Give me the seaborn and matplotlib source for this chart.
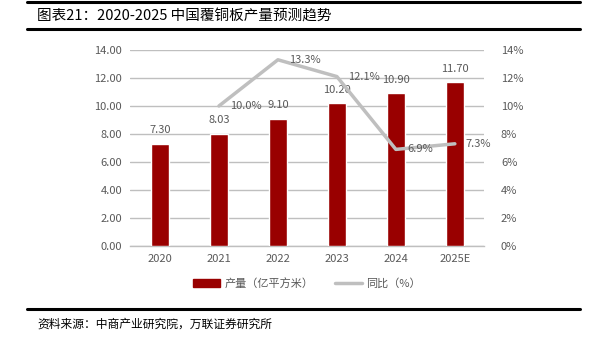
import matplotlib
matplotlib.use("Agg")
import matplotlib.pyplot as plt
import seaborn as sns
import pandas as pd
import numpy as np
from matplotlib.lines import Line2D
from matplotlib.patches import Patch
from matplotlib.ticker import FixedLocator

years = ["2020", "2021", "2022", "2023", "2024", "2025E"]
output = [7.30, 8.03, 9.10, 10.20, 10.90, 11.70]
yoy_years = ["2021", "2022", "2023", "2024", "2025E"]
yoy = [10.0, 13.3, 12.1, 6.9, 7.3]
left_ticks = [0, 2, 4, 6, 8, 10, 12, 14]
right_ticks = [0, 2, 4, 6, 8, 10, 12, 14]

sns.set_theme(style="white")
plt.rcParams["font.family"] = ["Noto Sans CJK SC", "DejaVu Sans"]

BAR = "#990000"
LINE = "#BFBFBF"
TXT = "#595959"
GRID = "#BFBFBF"

fig = plt.figure(figsize=(6.08, 3.47), dpi=100)
ax = fig.add_axes([0.2146, 0.291, 0.582, 0.565])

df_bar = pd.DataFrame({"year": years, "output": output})
sns.barplot(data=df_bar, x="year", y="output", color=BAR, width=0.31,
            saturation=1, ax=ax, zorder=3)
ax.set_xlim(-0.5, len(years) - 0.5)
ax.set_ylim(0, 14)
ax.yaxis.set_major_locator(FixedLocator(left_ticks))
ax.set_yticklabels([f"{v:.2f}" for v in left_ticks])
ax.grid(axis="y", color=GRID, linewidth=1.0, zorder=0)
ax.set_axisbelow(True)
for s in ["top", "left", "right"]:
    ax.spines[s].set_visible(False)
ax.spines["bottom"].set_color(GRID)
ax.spines["bottom"].set_linewidth(1.0)
ax.tick_params(axis="both", length=0, labelsize=8, colors=TXT, pad=6)
ax.set_xlabel("")
ax.set_ylabel("")

for i, v in enumerate(output):
    ax.annotate(f"{v:.2f}", (i, v), xytext=(0, 6), textcoords="offset points",
                ha="center", va="bottom", fontsize=8, color=TXT, zorder=5)

ax2 = ax.twinx()
pos = {y: i for i, y in enumerate(years)}
df_line = pd.DataFrame({"x": [pos[y] for y in yoy_years], "yoy": yoy})
sns.lineplot(data=df_line, x="x", y="yoy", color=LINE, linewidth=2.5, ax=ax2,
             zorder=4)
ax2.set_ylim(0, 14)
ax2.yaxis.set_major_locator(FixedLocator(right_ticks))
ax2.set_yticklabels([f"{v}%" for v in right_ticks])
ax2.tick_params(axis="y", length=0, labelsize=8, colors=TXT, pad=12)
for s in ["top", "left", "right", "bottom"]:
    ax2.spines[s].set_visible(False)
ax2.set_xlabel("")
ax2.set_ylabel("")
ax2.set_xlim(-0.5, len(years) - 0.5)

for x, v in zip(df_line["x"], yoy):
    ax2.annotate(f"{v:.1f}%", (x, v), xytext=(8, 0), textcoords="offset points",
                 ha="left", va="center", fontsize=8, color=TXT, zorder=5)

handles = [Patch(facecolor=BAR, edgecolor=BAR),
           Line2D([0], [0], color=LINE, linewidth=2.5)]
fig.legend(handles, ["产量（亿平方米）", "同比（%）"], loc="center",
           bbox_to_anchor=(0.505, 0.184), ncol=2, frameon=False, fontsize=8,
           labelcolor=TXT, handlelength=2.4, handleheight=0.8,
           columnspacing=2.0, handletextpad=0.4)

# header / footer rules
for y, lw in [(1 - 2 / 347, 2.2), (1 - 29 / 347, 2.2), (1 - 309 / 347, 2.2)]:
    fig.add_artist(Line2D([27 / 608, 580 / 608], [y, y], color="black",
                          linewidth=lw, transform=fig.transFigure))

fig.text(37 / 608, 1 - 16 / 347, "图表21：2020-2025 中国覆铜板产量预测趋势",
         ha="left", va="center", fontsize=10.5, color="black")
fig.text(37 / 608, 1 - 324 / 347, "资料来源：中商产业研究院，万联证券研究所",
         ha="left", va="center", fontsize=8.5, color="black", style="italic")

fig.savefig("out.png", dpi=100)
